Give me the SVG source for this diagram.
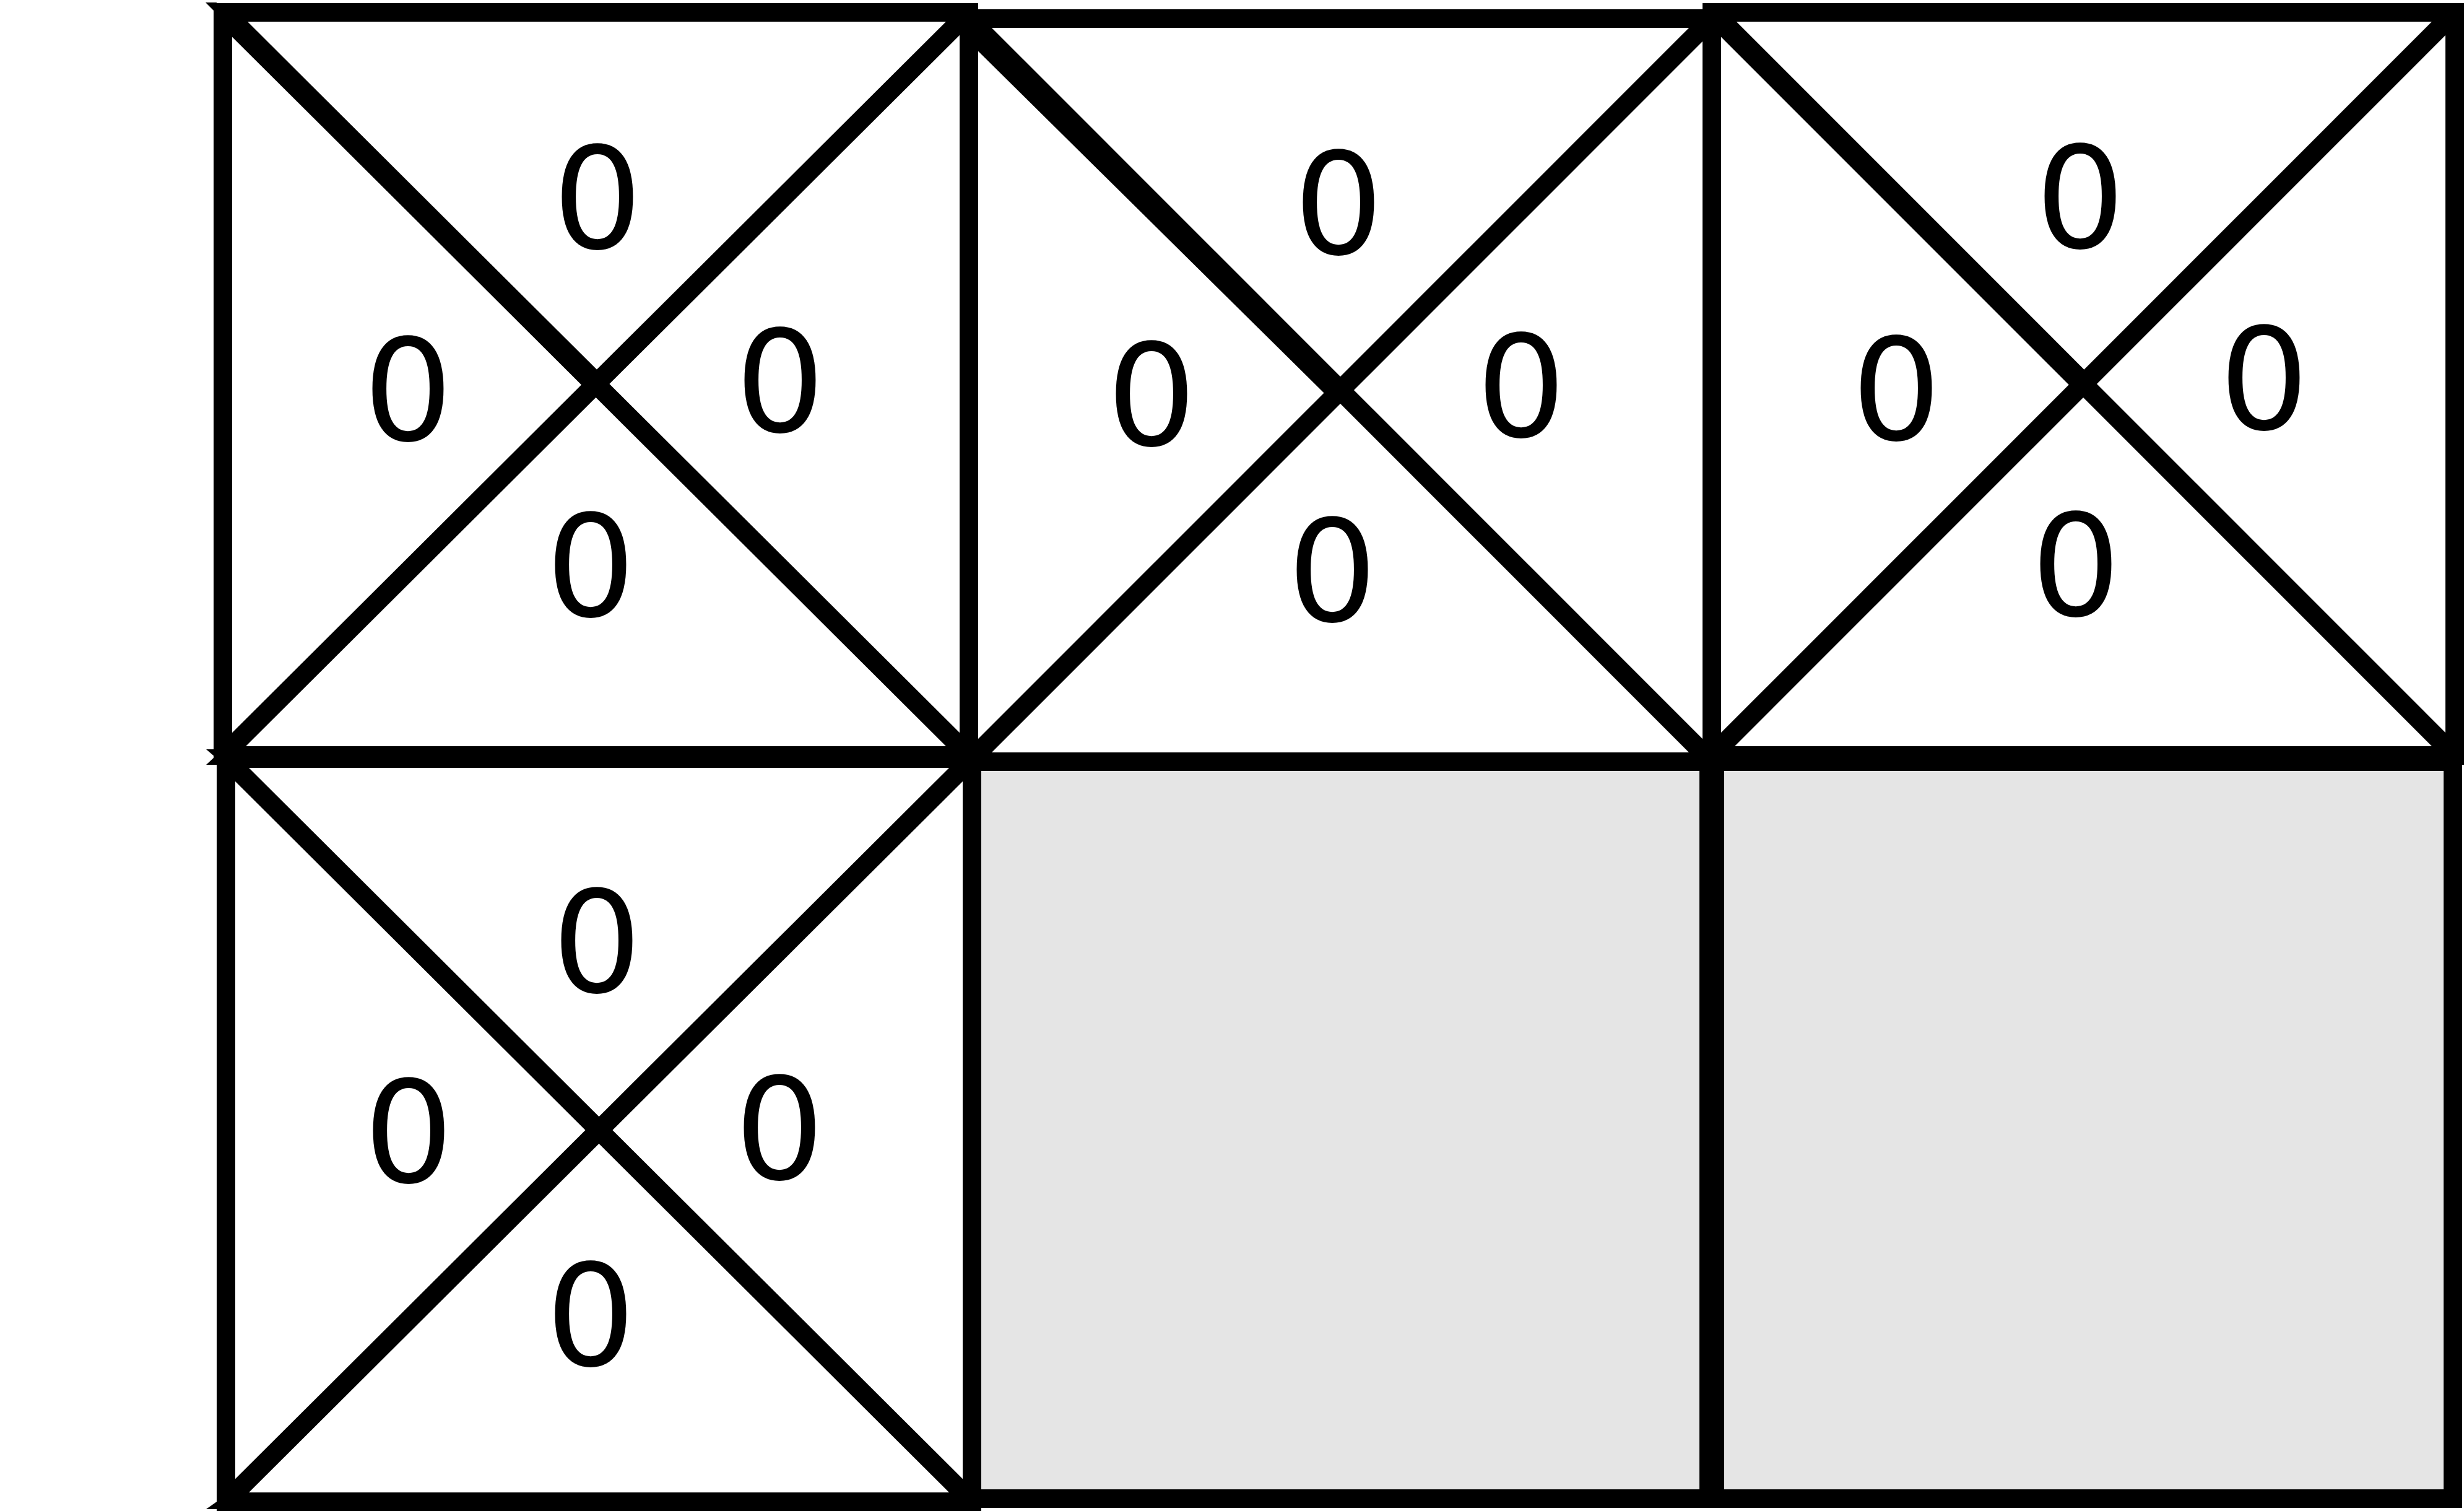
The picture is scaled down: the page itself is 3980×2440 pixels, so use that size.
<svg xmlns="http://www.w3.org/2000/svg" width="3980" height="2440" viewBox="0 0 3980 2440">
<style>
.bg{fill:#ffffff}
.cell{fill:#ffffff;stroke:#000000;stroke-width:30;stroke-linejoin:miter}
.wall{fill:#e5e5e5;stroke:#000000;stroke-width:30;stroke-linejoin:miter}
.d1{stroke:#000000;stroke-width:31;fill:none}
.d2{stroke:#000000;stroke-width:35;fill:none}
.q{font-family:"DejaVu Sans","Liberation Sans",sans-serif;font-size:228px;fill:#000000;text-anchor:middle}
.sp{fill:#000000}
</style>
<rect class="bg" x="0" y="0" width="3980" height="2440"/>
<g id="cell-0-0">
<rect class="cell" x="360" y="20" width="1205" height="1200"/>
<line class="d1" x1="1565" y1="20" x2="360" y2="1220"/>
<line class="d1" x1="962.5" y1="620" x2="1565" y2="1220"/>
<line class="d2" x1="360" y1="20" x2="962.5" y2="620"/>
<text class="q" x="965" y="401">0</text>
<text class="q" x="659" y="711">0</text>
<text class="q" x="1260" y="697">0</text>
<text class="q" x="954" y="995">0</text>
</g>
<g id="cell-0-1">
<rect class="cell" x="1565" y="30" width="1200" height="1200"/>
<line class="d1" x1="2765" y1="30" x2="1565" y2="1230"/>
<line class="d1" x1="2165" y1="630" x2="2765" y2="1230"/>
<line class="d1" x1="2165" y1="630" x2="1565" y2="30"/>
<line class="d1" x1="2162" y1="636" x2="1565" y2="46"/>
<text class="q" x="2162" y="410">0</text>
<text class="q" x="1860" y="719">0</text>
<text class="q" x="2457" y="705">0</text>
<text class="q" x="2152" y="1003">0</text>
</g>
<g id="cell-0-2">
<rect class="cell" x="2765" y="20" width="1200" height="1200"/>
<line class="d1" x1="3965" y1="20" x2="2765" y2="1220"/>
<line class="d1" x1="3365" y1="620" x2="3965" y2="1220"/>
<line class="d2" x1="2765" y1="20" x2="3365" y2="620"/>
<text class="q" x="3360" y="400">0</text>
<text class="q" x="3063" y="710">0</text>
<text class="q" x="3657" y="693">0</text>
<text class="q" x="3353" y="994">0</text>
</g>
<g id="cell-1-0">
<rect class="cell" x="365" y="1225" width="1205" height="1200"/>
<line class="d1" x1="1570" y1="1225" x2="365" y2="2425"/>
<line class="d1" x1="967.5" y1="1825" x2="1570" y2="2425"/>
<line class="d1" x1="365" y1="1225" x2="967.5" y2="1825"/>
<text class="q" x="964" y="1602">0</text>
<text class="q" x="660" y="1909">0</text>
<text class="q" x="1259" y="1904">0</text>
<text class="q" x="954" y="2205">0</text>
</g>
<g id="wall-1-1">
<rect class="wall" x="1570" y="1230" width="1190" height="1190"/>
</g>
<g id="wall-1-2">
<rect class="wall" x="2770" y="1230" width="1192" height="1190"/>
</g>
<g id="corners">
<polygon class="sp" points="332,4 350,4 347,19"/>
<polygon class="sp" points="333,1210 347,1210 347,1222"/>
<polygon class="sp" points="333,1235 347,1235 347,1222"/>
<polygon class="sp" points="333,2437 350,2437 350,2425"/>
</g>
</svg>
